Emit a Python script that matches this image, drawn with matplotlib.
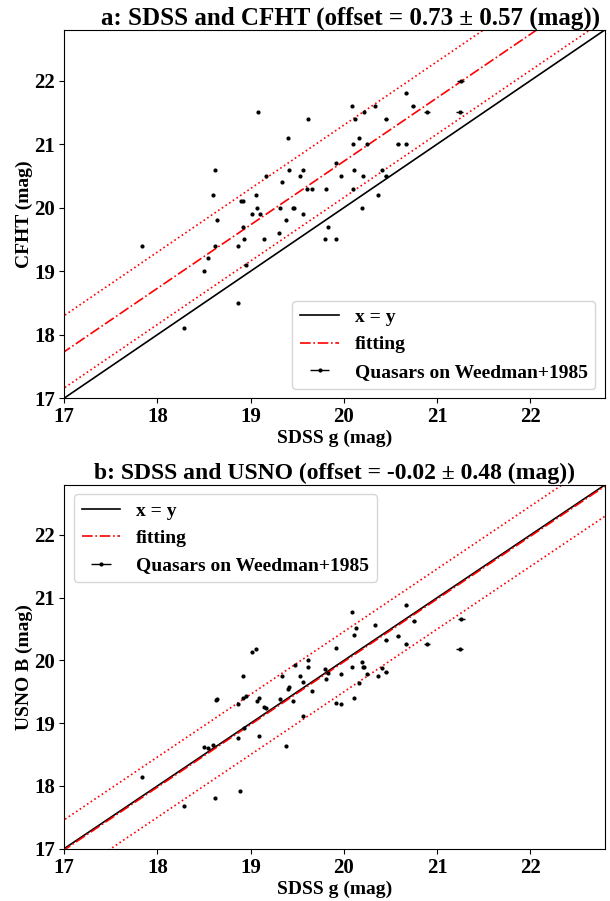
import numpy as np
import matplotlib
matplotlib.use("Agg")
import matplotlib.pyplot as plt

plt.rcParams['font.family'] = ['Liberation Serif', 'DejaVu Serif']
plt.rcParams['font.weight'] = 'bold'
plt.rcParams['axes.labelweight'] = 'bold'
plt.rcParams['axes.titleweight'] = 'bold'

# ---- Panel a: SDSS g vs CFHT ----
g_cfht = [17.84, 18.29, 18.50, 18.54, 18.60, 18.62, 18.62, 18.64, 18.86, 18.86,
          18.90, 18.92, 18.92, 18.93, 18.95, 19.01, 19.06, 19.07, 19.08, 19.10,
          19.14, 19.16, 19.30, 19.31, 19.34, 19.38, 19.40, 19.41, 19.45, 19.47,
          19.53, 19.56, 19.56, 19.60, 19.62, 19.66, 19.80, 19.81, 19.83, 19.92,
          19.92, 19.97, 20.09, 20.10, 20.10, 20.11, 20.12, 20.16, 20.19, 20.20,
          20.21, 20.25, 20.33, 20.37, 20.41, 20.45, 20.45, 20.58, 20.67, 20.67,
          20.74, 20.89, 21.24, 21.25]
cfht = [19.4, 18.1, 19.0, 19.2, 20.2, 20.6, 19.4, 19.8, 19.4, 18.5,
        20.1, 20.1, 19.7, 19.5, 19.1, 19.9, 20.2, 20.0, 21.5, 19.9,
        19.5, 20.5, 19.6, 20.0, 20.4, 19.8, 21.1, 20.6, 20.0, 20.0,
        20.5, 20.6, 19.9, 20.3, 21.4, 20.3, 19.5, 20.3, 19.7, 20.7,
        19.5, 20.5, 21.6, 21.0, 20.3, 20.6, 21.4, 21.1, 20.0, 20.5,
        21.5, 21.0, 21.6, 20.2, 20.6, 21.4, 20.5, 21.0, 21.0, 21.8,
        21.6, 21.5, 21.5, 22.0]
gerr_cfht = [0.01, 0.01, 0.01, 0.01, 0.01, 0.01, 0.01, 0.01, 0.01, 0.01,
             0.01, 0.01, 0.01, 0.01, 0.01, 0.01, 0.01, 0.01, 0.01, 0.01,
             0.01, 0.01, 0.01, 0.01, 0.01, 0.01, 0.01, 0.01, 0.01, 0.01,
             0.01, 0.01, 0.01, 0.01, 0.01, 0.01, 0.01, 0.01, 0.01, 0.01,
             0.01, 0.01, 0.01, 0.01, 0.01, 0.01, 0.01, 0.01, 0.01, 0.01,
             0.01, 0.01, 0.01, 0.01, 0.01, 0.02, 0.02, 0.02, 0.02, 0.02,
             0.02, 0.03, 0.04, 0.04]
offset_a, sigma_a = 0.73, 0.57

# ---- Panel b: SDSS g vs USNO B ----
g_usno = [17.84, 18.29, 18.50, 18.54, 18.60, 18.62, 18.63, 18.64, 18.86, 18.86,
          18.89, 18.92, 18.92, 18.93, 18.95, 19.01, 19.06, 19.07, 19.09, 19.09,
          19.14, 19.16, 19.31, 19.34, 19.38, 19.40, 19.41, 19.45, 19.48, 19.53,
          19.56, 19.56, 19.61, 19.62, 19.66, 19.80, 19.81, 19.83, 19.91, 19.92,
          19.97, 19.97, 20.09, 20.09, 20.11, 20.11, 20.13, 20.16, 20.19, 20.20,
          20.22, 20.25, 20.33, 20.37, 20.41, 20.45, 20.45, 20.58, 20.67, 20.67,
          20.75, 20.89, 21.24, 21.26]
usno = [18.14, 17.68, 18.62, 18.60, 18.65, 17.81, 19.37, 19.38, 19.31, 18.76,
        17.92, 19.40, 19.76, 18.92, 19.44, 20.13, 20.19, 19.36, 19.40, 18.79,
        19.26, 19.25, 19.38, 19.75, 18.63, 19.55, 19.58, 19.36, 19.92, 19.76,
        19.66, 19.12, 20.01, 19.89, 19.52, 19.87, 19.71, 19.80, 19.33, 20.20,
        19.78, 19.31, 20.77, 19.90, 20.41, 19.40, 20.52, 19.64, 19.97, 19.89,
        19.90, 19.79, 20.57, 19.76, 19.88, 20.32, 19.82, 20.39, 20.27, 20.88,
        20.63, 20.27, 20.19, 20.66]
gerr_usno = gerr_cfht
offset_b, sigma_b = -0.02, 0.48

lims = (17, 22.8)

fig = plt.figure(figsize=(6.1, 9.01), dpi=100)
ax1 = fig.add_axes([0.105, 0.558, 0.887, 0.409])
ax2 = fig.add_axes([0.105, 0.058, 0.887, 0.404])

def draw(ax, gx, gy, gerr, off, sig, title, ylabel, loc, tsize, tx):
    xx = np.array([16.5, 23.5])
    ax.plot(xx, xx, 'k-', lw=1.2, label='x = y')
    ax.plot(xx, xx + off, 'r-.', lw=1.2, label='fitting')
    ax.plot(xx, xx + off + sig, 'r:', lw=1.2)
    ax.plot(xx, xx + off - sig, 'r:', lw=1.2)
    ax.errorbar(gx, gy, xerr=gerr, fmt='k.', ms=4, elinewidth=1,
                label='Quasars on Weedman+1985')
    ax.set_xlim(*lims)
    ax.set_ylim(*lims)
    ax.set_xticks([17, 18, 19, 20, 21, 22])
    ax.set_yticks([17, 18, 19, 20, 21, 22])
    ax.tick_params(labelsize=15, pad=3)
    for lab in ax.get_xticklabels() + ax.get_yticklabels():
        lab.set_fontweight('bold')
    ax.set_title(title, fontsize=tsize, fontweight='bold', pad=4, x=tx)
    ax.set_xlabel('SDSS g (mag)', fontsize=14, fontweight='bold', labelpad=2)
    ax.set_ylabel(ylabel, fontsize=14, fontweight='bold', labelpad=1)
    ax.legend(loc=loc, prop={'size': 14, 'weight': 'bold'})

draw(ax1, g_cfht, cfht, gerr_cfht, offset_a, sigma_a,
     'a: SDSS and CFHT (offset = 0.73 ± 0.57 (mag))', 'CFHT (mag)', 'lower right',
     18, 0.53)
draw(ax2, g_usno, usno, gerr_usno, offset_b, sigma_b,
     'b: SDSS and USNO (offset = -0.02 ± 0.48 (mag))', 'USNO B (mag)', 'upper left',
     17, 0.5)

fig.savefig('out.png', dpi=100)
